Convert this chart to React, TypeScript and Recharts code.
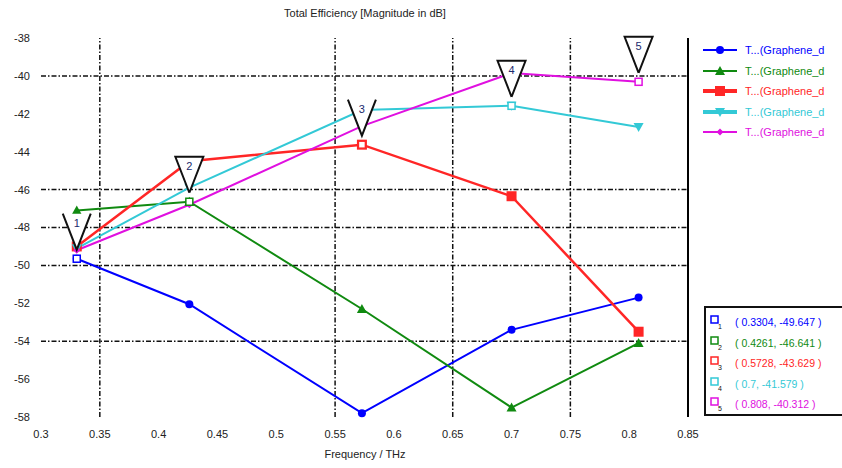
import React from "react";
import {
  ComposedChart,
  Line,
  Scatter,
  XAxis,
  YAxis,
  ReferenceLine,
} from "recharts";

// frequency points (THz)
const freq = [0.3304, 0.4261, 0.5728, 0.7, 0.808];

// total efficiency per curve, dB
const curve1 = [-49.647, -52.05, -57.8, -53.4, -51.7];
const curve2 = [-47.1, -46.641, -52.3, -57.5, -54.1];
const curve3 = [-49.0, -44.5, -43.629, -46.35, -53.5];
const curve4 = [-49.1, -45.9, -41.8, -41.579, -42.7];
const curve5 = [-49.2, -46.8, -42.65, -39.85, -40.312];

// legend names, shown truncated as in the original plot
const seriesNames = [
  "T...(Graphene_d",
  "T...(Graphene_d",
  "T...(Graphene_d",
  "T...(Graphene_d",
  "T...(Graphene_d",
];

const xTicks = [0.3, 0.35, 0.4, 0.45, 0.5, 0.55, 0.6, 0.65, 0.7, 0.75, 0.8, 0.85];
const yTicks = [-58, -56, -54, -52, -50, -48, -46, -44, -42, -40, -38];
const xGrid = [0.35, 0.55, 0.65, 0.75];
const yGrid = [-40, -46, -48, -50, -54];

const COLORS = ["#0000ff", "#108a10", "#ff2626", "#33c9d6", "#e010e0"];
const SHAPES = ["circle", "triangle", "square", "triangleDown", "diamond"];
const curves = [curve1, curve2, curve3, curve4, curve5];

const data = freq.map((x, i) => ({
  x,
  c1: curve1[i],
  c2: curve2[i],
  c3: curve3[i],
  c4: curve4[i],
  c5: curve5[i],
}));

// marker n sits on curve n at point n
const markers = freq.map((x, i) => ({ x, y: curves[i][i], n: i + 1 }));
const markerHasTop = [false, true, false, true, true];

function MarkShape({ cx, cy, shape, color }: any) {
  if (cx == null || cy == null) return null;
  if (shape === "circle") return <circle cx={cx} cy={cy} r={4} fill={color} />;
  if (shape === "square")
    return <rect x={cx - 5} y={cy - 5} width={10} height={10} fill={color} />;
  if (shape === "triangle")
    return (
      <polygon
        points={`${cx},${cy - 5} ${cx - 5},${cy + 4} ${cx + 5},${cy + 4}`}
        fill={color}
      />
    );
  if (shape === "triangleDown")
    return (
      <polygon
        points={`${cx},${cy + 5} ${cx - 5},${cy - 4} ${cx + 5},${cy - 4}`}
        fill={color}
      />
    );
  return (
    <polygon
      points={`${cx},${cy - 3.5} ${cx + 3.5},${cy} ${cx},${cy + 3.5} ${cx - 3.5},${cy}`}
      fill={color}
    />
  );
}

function MarkerFlag(props: any) {
  const { cx, cy, payload } = props;
  if (cx == null || cy == null) return null;
  const i = payload.n - 1;
  const tipY = cy - 9;
  const topY = tipY - 36;
  const l = cx - 14;
  const r = cx + 14;
  return (
    <g>
      <rect
        x={cx - 3.5}
        y={cy - 3.5}
        width={7}
        height={7}
        fill="#fff"
        stroke={COLORS[i]}
        strokeWidth={1.5}
      />
      <polygon points={`${l},${topY} ${r},${topY} ${cx},${tipY}`} fill="#fff" />
      <polyline
        points={
          markerHasTop[i]
            ? `${cx},${tipY} ${l},${topY} ${r},${topY} ${cx},${tipY}`
            : `${l},${topY} ${cx},${tipY} ${r},${topY}`
        }
        fill="none"
        stroke="#111"
        strokeWidth={2}
      />
      <text
        x={cx}
        y={topY + 13}
        textAnchor="middle"
        fontSize={11}
        fill="#1a2a6c"
        fontFamily="Liberation Sans, Arial, sans-serif"
      >
        {payload.n}
      </text>
    </g>
  );
}

const font = "'Liberation Sans', Arial, sans-serif";

export default function App() {
  return (
    <div
      style={{
        position: "absolute",
        left: 0,
        top: 0,
        width: 842,
        height: 468,
        overflow: "hidden",
        background: "#fff",
        fontFamily: font,
      }}
    >
      <div
        style={{
          position: "absolute",
          top: 7,
          left: 265,
          width: 200,
          textAlign: "center",
          fontSize: 11,
          color: "#222",
          whiteSpace: "nowrap",
        }}
      >
        Total Efficiency [Magnitude in dB]
      </div>

      <ComposedChart
        width={842}
        height={468}
        data={data}
        margin={{ top: 38, right: 154, bottom: 0, left: 0 }}
      >
        <XAxis
          type="number"
          dataKey="x"
          domain={[0.3, 0.85]}
          ticks={xTicks}
          axisLine={false}
          tickLine={false}
          tickSize={0}
          tickMargin={13}
          height={51}
          tick={{ fill: "#222", fontSize: 11, fontFamily: font }}
        />
        <YAxis
          type="number"
          domain={[-58, -38]}
          ticks={yTicks}
          axisLine={false}
          tickLine={false}
          tickSize={0}
          tickMargin={11}
          width={41}
          tick={{ fill: "#222", fontSize: 11, fontFamily: font }}
        />
        {yGrid.map((v) => (
          <ReferenceLine
            key={"y" + v}
            y={v}
            stroke="#111"
            strokeWidth={1.5}
            strokeDasharray="5 2 1.5 2"
          />
        ))}
        {xGrid.map((v) => (
          <ReferenceLine
            key={"x" + v}
            x={v}
            stroke="#111"
            strokeWidth={1.5}
            strokeDasharray="5 2 1.5 2"
          />
        ))}
        <ReferenceLine x={0.85} stroke="#000" strokeWidth={2} />
        {curves.map((_, i) => (
          <Line
            key={i}
            type="linear"
            dataKey={"c" + (i + 1)}
            stroke={COLORS[i]}
            strokeWidth={i === 2 ? 2.5 : 2}
            dot={(p: any) => (
              <MarkShape
                key={p.index}
                cx={p.cx}
                cy={p.cy}
                shape={SHAPES[i]}
                color={COLORS[i]}
              />
            )}
            activeDot={false}
            isAnimationActive={false}
          />
        ))}
        <Scatter
          data={markers}
          dataKey="y"
          shape={<MarkerFlag />}
          isAnimationActive={false}
        />
      </ComposedChart>

      <div
        style={{
          position: "absolute",
          top: 448,
          left: 300,
          width: 130,
          textAlign: "center",
          fontSize: 11,
          color: "#222",
        }}
      >
        Frequency / THz
      </div>

      {/* series legend */}
      <div style={{ position: "absolute", left: 702, top: 40 }}>
        {seriesNames.map((name, i) => (
          <div
            key={i}
            style={{ display: "flex", alignItems: "center", height: 20.5 }}
          >
            <svg width={36} height={12}>
              <line
                x1={1}
                y1={6}
                x2={35}
                y2={6}
                stroke={COLORS[i]}
                strokeWidth={i === 2 || i === 3 ? 4 : 2}
              />
              <MarkShape cx={18} cy={6} shape={SHAPES[i]} color={COLORS[i]} />
            </svg>
            <span
              style={{
                marginLeft: 7,
                fontSize: 11,
                color: COLORS[i],
                whiteSpace: "nowrap",
              }}
            >
              {name}
            </span>
          </div>
        ))}
      </div>

      {/* marker readout box */}
      <div
        style={{
          position: "absolute",
          left: 704,
          top: 306,
          width: 150,
          height: 110,
          border: "2px solid #111",
          boxSizing: "border-box",
          paddingTop: 4,
        }}
      >
        {markers.map((m, i) => (
          <div
            key={m.n}
            style={{ display: "flex", alignItems: "center", height: 20.5 }}
          >
            <svg width={24} height={18}>
              <rect
                x={5}
                y={3}
                width={7}
                height={7}
                fill="#fff"
                stroke={COLORS[i]}
                strokeWidth={1.5}
              />
              <text x={12} y={16} fontSize={7} fill="#111" fontFamily={font}>
                {m.n}
              </text>
            </svg>
            <span
              style={{
                marginLeft: 5,
                fontSize: 10.5,
                color: COLORS[i],
                whiteSpace: "nowrap",
              }}
            >
              {`( ${m.x}, ${m.y.toFixed(3)} )`}
            </span>
          </div>
        ))}
      </div>
    </div>
  );
}
